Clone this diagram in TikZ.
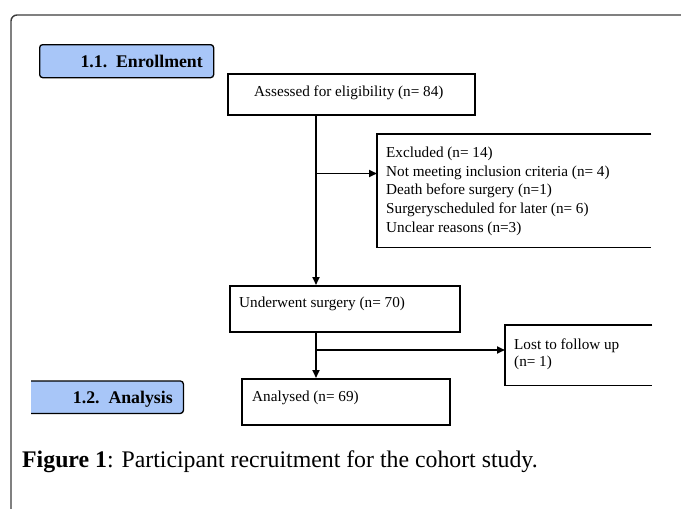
\documentclass[tikz,border=0pt]{standalone}
\usepackage{fontspec}
\setmainfont{Liberation Serif}
\usetikzlibrary{arrows.meta}
\definecolor{lblue}{RGB}{168,198,248}
\definecolor{framegray}{RGB}{60,60,60}
\tikzset{
  box/.style={draw=black, line width=1.8pt, inner sep=0pt, anchor=north west},
  openbox/.style={inner sep=0pt, anchor=north west},
  txt/.style={inner sep=0pt, anchor=base west, font=\fontsize{15.2}{18}\selectfont},
  lbl/.style={inner sep=0pt, anchor=base east, font=\fontsize{17.8}{20}\selectfont\bfseries},
  arr/.style={line width=1.8pt, -{Triangle[length=8pt,width=7pt]}},
  edge/.style={line width=1.8pt}
}
\begin{document}
\begin{tikzpicture}[x=1pt,y=-1pt]
\useasboundingbox (0,0) rectangle (681,509);
% outer frame
\draw[framegray, line width=1.4pt, rounded corners=6pt] (681,15) -- (11,15) -- (11,509);
% section labels
\node[box, fill=lblue, rounded corners=3pt, line width=1.3pt, minimum width=174pt, minimum height=33pt] (enr) at (39,44) {};
\node[lbl] (enrt) at (203,67) {1.1.\ \ Enrollment};
\node[openbox, fill=lblue, minimum width=152pt, minimum height=32pt] (ana) at (31,381) {};
\draw[line width=1.3pt, rounded corners=3pt] (ana.north west) -- (ana.north east) -- (ana.south east) -- (ana.south west);
\node[lbl] (anat) at (173,403) {1.2.\ \ Analysis};
% boxes
\node[box, minimum width=247pt, minimum height=41pt] (assess) at (227,73) {};
\node[txt] (assesst) at (254,96) {Assessed for eligibility (n= 84)};
\node[openbox, minimum width=274pt, minimum height=113pt] (ex) at (377,134) {};
\draw[edge] (ex.north east) -- (ex.north west) -- (ex.south west) -- (ex.south east);
\node[txt] (ex1) at (386,157.3) {Excluded (n= 14)};
\node[txt] (ex2) at (386,176.0) {Not meeting inclusion criteria (n= 4)};
\node[txt] (ex3) at (386,194.7) {Death before surgery (n=1)};
\node[txt] (ex4) at (386,213.3) {Surgeryscheduled for later (n= 6)};
\node[txt] (ex5) at (386,232.0) {Unclear reasons (n=3)};
\node[box, minimum width=230pt, minimum height=46pt] (under) at (229,285) {};
\node[txt] (undert) at (239,307.5) {Underwent surgery (n= 70)};
\node[openbox, minimum width=147pt, minimum height=60pt] (lost) at (505,325) {};
\draw[edge] (lost.north east) -- (lost.north west) -- (lost.south west) -- (lost.south east);
\node[txt] (lost1) at (514,349.5) {Lost to follow up};
\node[txt] (lost2) at (514,366.5) {(n= 1)};
\node[box, minimum width=208pt, minimum height=46pt] (anal) at (241,378) {};
\node[txt] (analt) at (252,401.5) {Analysed (n= 69)};
% connectors
\coordinate (trunk) at (316,0);
\coordinate (j1) at (316,173.5);
\coordinate (j2) at (316,350);
\draw[arr] (trunk |- assess.south) -- (trunk |- under.north);
\draw[arr] (j1) -- (j1 -| ex.west);
\draw[arr] (trunk |- under.south) -- (trunk |- anal.north);
\draw[arr] (j2) -- (j2 -| lost.west);
% caption
\node[inner sep=0pt, anchor=base west, font=\fontsize{23.8}{28}\selectfont] (cap) at (22,467) {\textbf{Figure 1}: Participant recruitment for the cohort study.};
\end{tikzpicture}
\end{document}
